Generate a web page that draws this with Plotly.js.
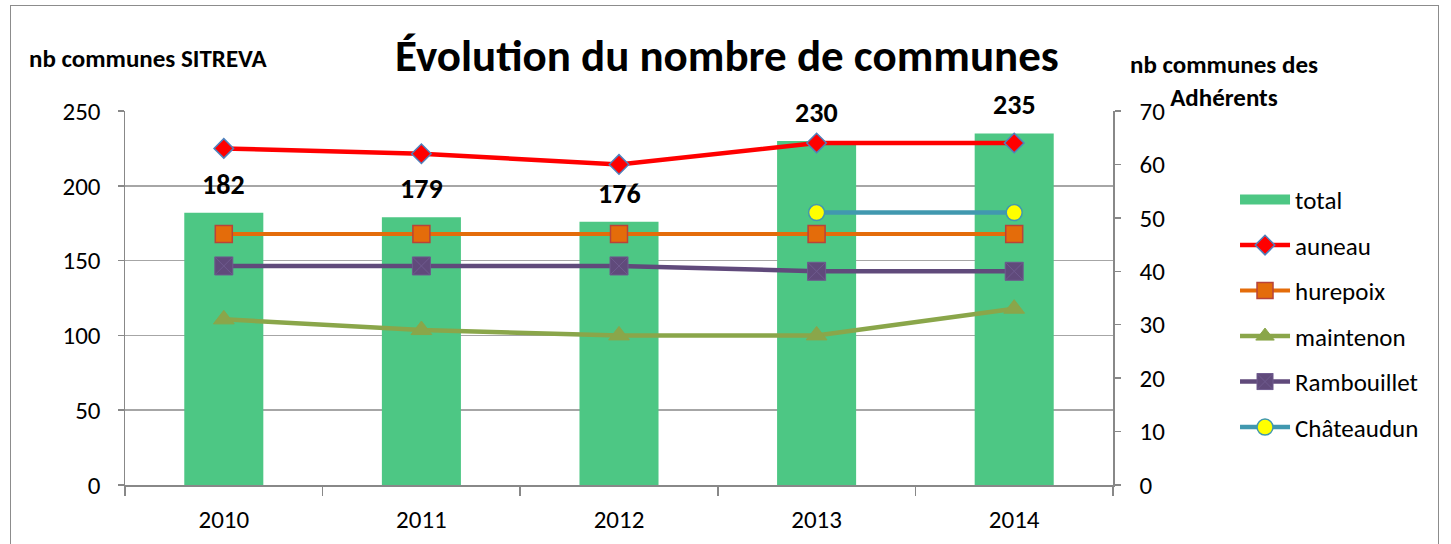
<!DOCTYPE html>
<html><head><meta charset="utf-8">
<script src="https://cdn.plot.ly/plotly-3.0.1.min.js"></script>
<style>
html,body{margin:0;padding:0;background:#fff;}
#frame{position:absolute;left:10px;top:5px;width:1427px;height:600px;border:1.5px solid #8c8c8c;pointer-events:none;z-index:5;}
#chart{position:absolute;left:0;top:0;width:1451px;height:544px;}
</style></head>
<body>
<div id="chart"></div>
<div id="frame"></div>
<script>
const years = ['2010','2011','2012','2013','2014'];
const total = [182,179,176,230,235];
const auneau = [63,62,60,64,64];
const hurepoix = [47,47,47,47,47];
const maintenon = [31,29,28,28,33];
const rambouillet = [41,41,41,40,40];
const chateaudun = [null,null,null,51,51];

const F = 'Carlito, Calibri, "Open Sans", sans-serif';
const BAR = '#4DC784';

const traces = [
  {type:'bar', name:'total', x:years, y:total, marker:{color:BAR}, width:0.4, yaxis:'y', showlegend:false},
  {type:'scatter', mode:'lines', name:'total', x:[null], y:[null], yaxis:'y', legendgroup:'a',
   line:{color:BAR, width:10}},
  {type:'scatter', mode:'lines+markers', name:'auneau', x:years, y:auneau, yaxis:'y2', legendgroup:'b',
   line:{color:'#FF0000', width:4.5}, marker:{symbol:'diamond', size:15, color:'#FF0000', line:{color:'#4F81BD', width:1.5}}},
  {type:'scatter', mode:'lines+markers', name:'hurepoix', x:years, y:hurepoix, yaxis:'y2', legendgroup:'c',
   line:{color:'#E46C0A', width:4}, marker:{symbol:'square', size:17, color:'#E46C0A', line:{color:'#B8433A', width:1.5}}},
  {type:'scatter', mode:'lines+markers', name:'maintenon', x:years, y:maintenon, yaxis:'y2', legendgroup:'d',
   line:{color:'#8AA64A', width:4.5}, marker:{symbol:'triangle-up', size:18, color:'#8AA64A', line:{color:'#8AA64A', width:1}}},
  {type:'scatter', mode:'lines+markers', name:'Rambouillet', x:years, y:rambouillet, yaxis:'y2', legendgroup:'e',
   line:{color:'#604A7B', width:4.5}, marker:{symbol:'square-x', size:18, color:'#604A7B', line:{color:'#6E5A8E', width:1}}},
  {type:'scatter', mode:'lines+markers', name:'Châteaudun', x:years, y:chateaudun, yaxis:'y2', legendgroup:'f',
   line:{color:'#4198AF', width:4.5}, marker:{symbol:'circle', size:16, color:'#FFFF00', line:{color:'#4198AF', width:1.5}}}
];

const annotations = years.map((yr,i)=>({x:i, y:total[i], xref:'x', yref:'y', text:'<b>'+total[i]+'</b>',
  showarrow:false, yanchor:'bottom', yshift:9, font:{family:F, size:28, color:'#000'}}));
annotations.push(
  {xref:'paper', yref:'paper', x:-0.0992, y:1.1417, xanchor:'left', yanchor:'middle', showarrow:false,
   text:'<b>nb communes SITREVA</b>', font:{family:F, size:25, color:'#000'}},
  {xref:'paper', yref:'paper', x:1.1123, y:1.0, xanchor:'center', yanchor:'bottom', yshift:-4, showarrow:false, align:'center',
   text:'<b>nb communes des<br>Adhérents</b>', font:{family:F, size:25, color:'#000'}}
);

const layout = {
  width:1451, height:544,
  margin:{l:125, r:338, t:111, b:59},
  paper_bgcolor:'#fff', plot_bgcolor:'#fff',
  title:{text:'<b>Évolution du nombre de communes</b>', x:0.501, xanchor:'center', y:0.899, yanchor:'middle', yref:'container',
    font:{family:F, size:45, color:'#000'}},
  showlegend:true,
  legend:{x:1.1235, xanchor:'left', y:0.824, yanchor:'top', font:{family:F, size:25, color:'#000'}, tracegroupgap:10,
    bgcolor:'rgba(0,0,0,0)', itemwidth:50},
  xaxis:{type:'category', range:[-0.5,4.5], tickson:'boundaries', ticks:'outside', ticklen:9, tickcolor:'#888', tickwidth:1.5,
    showline:true, linecolor:'#888', linewidth:2, showgrid:false, tickfont:{family:F, size:25, color:'#000'}, ticklabelstandoff:11, fixedrange:true},
  yaxis:{range:[0,250], dtick:50, ticks:'outside', ticklen:6, tickcolor:'#888', tickwidth:1.5, showline:true, linecolor:'#888', linewidth:1.5,
    showgrid:true, gridcolor:'#A6A6A6', gridwidth:1.5, zeroline:false, tickfont:{family:F, size:25, color:'#000'}, ticklabelstandoff:12},
  yaxis2:{range:[0,70], dtick:10, overlaying:'y', side:'right', ticks:'outside', ticklen:6, tickcolor:'#888', tickwidth:1.5,
    showline:true, linecolor:'#888', linewidth:1.5, showgrid:false, zeroline:false, tickfont:{family:F, size:25, color:'#000'}, ticklabelstandoff:14},
  bargap:0.6,
  annotations:annotations
};
Plotly.newPlot('chart', traces, layout, {staticPlot:true});
</script>
</body></html>
